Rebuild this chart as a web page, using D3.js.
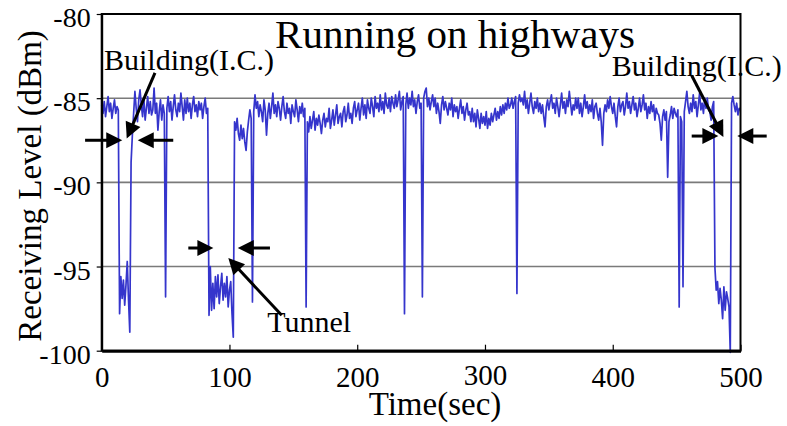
<!DOCTYPE html>
<html>
<head>
<meta charset="utf-8">
<script src="https://cdn.jsdelivr.net/npm/d3@7"></script>
<style>
  html, body { margin: 0; padding: 0; background: #fff; }
  svg { display: block; font-family: "Liberation Serif", "Times New Roman", serif; }
</style>
</head>
<body>
<div id="chart"></div>
<script>
// receiving level, one sample per second, t = 0..500 (dBm)
const LEVEL = [
  -85.4, -85.9, -85.2, -86.1, -85.5, -84.9, -85.8, -85.3, -86.2, -85.6, // 0
  -85.1, -85.9, -85.5, -85.7, -97.8, -95.6, -96.9, -95.8, -97.3, -96.1, // 10
  -94.7, -97.0, -98.9, -88.8, -87.2, -85.9, -84.6, -85.6, -86.4, -85.1, // 20
  -84.5, -85.4, -86.1, -85.0, -86.3, -85.6, -84.9, -85.9, -85.2, -86.0, // 30
  -85.7, -84.4, -85.9, -85.3, -86.9, -85.8, -85.1, -86.3, -85.4, -85.9, // 40
  -96.8, -85.6, -84.9, -85.8, -85.2, -86.3, -85.5, -84.8, -85.7, -86.1, // 50
  -85.3, -85.8, -84.7, -85.5, -86.3, -85.1, -85.9, -85.0, -85.8, -85.3, // 60
  -86.2, -85.4, -84.9, -85.8, -85.4, -86.1, -85.2, -85.7, -85.3, -86.2, // 70
  -85.5, -85.0, -85.9, -85.6, -97.9, -95.0, -97.6, -96.0, -97.5, -95.6, // 80
  -96.8, -95.5, -97.2, -96.2, -95.4, -97.0, -96.0, -96.8, -95.6, -97.4, // 90
  -96.4, -95.9, -97.8, -99.2, -86.4, -86.9, -86.2, -87.1, -87.5, -86.6, // 100
  -87.4, -86.8, -87.6, -88.1, -87.0, -86.3, -85.7, -86.2, -97.1, -85.8, // 110
  -84.8, -85.6, -85.2, -86.1, -85.4, -85.8, -86.4, -85.1, -85.7, -87.2, // 120
  -85.9, -85.3, -86.2, -85.5, -84.7, -85.9, -85.4, -86.1, -85.2, -85.6, // 130
  -86.3, -85.5, -84.9, -85.8, -86.2, -85.3, -85.9, -85.6, -86.5, -85.4, // 140
  -85.8, -86.1, -85.1, -85.7, -86.4, -85.5, -85.9, -85.3, -86.1, -85.6, // 150
  -97.4, -86.4, -87.0, -86.1, -86.8, -86.3, -85.8, -86.9, -86.2, -86.6, // 160
  -86.0, -86.5, -87.1, -86.3, -85.9, -86.7, -86.2, -86.4, -85.6, -86.8, // 170
  -86.3, -85.7, -86.6, -86.0, -85.4, -86.5, -86.1, -85.9, -86.7, -85.8, // 180
  -85.5, -86.4, -86.0, -85.3, -86.2, -85.9, -86.5, -85.6, -85.2, -86.1, // 190
  -85.7, -85.3, -86.3, -85.6, -85.0, -86.0, -85.4, -86.2, -85.1, -85.6, // 200
  -85.9, -85.0, -85.5, -86.1, -84.9, -85.6, -85.3, -85.8, -84.8, -85.7, // 210
  -85.2, -85.9, -84.7, -85.4, -85.6, -85.0, -85.8, -84.9, -85.3, -85.6, // 220
  -84.8, -85.5, -85.1, -84.6, -85.7, -85.2, -84.9, -97.8, -85.4, -84.7, // 230
  -85.6, -85.0, -85.4, -84.6, -85.5, -85.1, -85.9, -85.2, -84.8, -85.6, // 240
  -85.3, -96.8, -85.0, -84.6, -84.4, -85.5, -85.0, -85.7, -85.2, -84.8, // 250
  -85.5, -85.0, -85.9, -85.3, -85.8, -86.5, -85.4, -84.9, -85.7, -85.2, // 260
  -85.6, -86.0, -85.3, -85.7, -85.0, -86.1, -85.4, -85.8, -85.5, -86.2, // 270
  -85.6, -85.1, -85.9, -85.5, -86.3, -85.7, -85.3, -86.0, -85.8, -86.4, // 280
  -85.6, -86.4, -85.9, -86.7, -85.7, -86.2, -86.8, -85.9, -86.5, -86.1, // 290
  -86.6, -85.8, -86.8, -86.2, -86.6, -85.9, -86.4, -86.0, -85.6, -86.3, // 300
  -85.8, -86.2, -85.5, -86.0, -85.4, -85.9, -85.3, -85.7, -85.0, -85.6, // 310
  -85.4, -85.0, -85.6, -85.2, -84.9, -96.6, -85.3, -84.8, -85.2, -85.0, // 320
  -85.4, -84.6, -85.6, -85.1, -85.9, -85.3, -84.7, -85.5, -85.9, -85.2, // 330
  -85.6, -85.0, -85.8, -85.3, -85.9, -85.4, -86.1, -86.7, -85.5, -85.1, // 340
  -85.7, -85.2, -84.8, -85.6, -85.3, -85.9, -85.0, -85.5, -86.1, -85.4, // 350
  -84.7, -85.6, -85.2, -85.9, -85.1, -85.5, -84.6, -85.3, -86.0, -85.4, // 360
  -85.7, -85.0, -85.6, -85.0, -85.9, -85.3, -86.1, -85.5, -84.8, -85.6, // 370
  -85.2, -85.9, -85.4, -85.8, -85.1, -86.2, -85.5, -85.3, -85.9, -86.3, // 380
  -85.6, -86.4, -87.8, -85.9, -85.4, -85.8, -85.1, -85.6, -84.9, -85.5, // 390
  -85.9, -85.3, -86.1, -86.7, -85.5, -85.0, -85.8, -85.4, -85.2, -86.0, // 400
  -85.5, -84.7, -85.6, -85.2, -85.9, -85.4, -84.9, -85.7, -85.3, -86.1, // 410
  -85.6, -85.0, -85.8, -85.4, -84.8, -85.7, -85.3, -86.2, -85.5, -85.9, // 420
  -85.2, -85.8, -85.4, -86.3, -85.6, -85.9, -86.0, -86.5, -87.5, -86.1, // 430
  -85.7, -86.3, -85.8, -89.7, -86.4, -86.0, -85.5, -86.2, -85.6, -85.9, // 440
  -86.1, -85.7, -97.4, -86.1, -86.4, -96.2, -85.8, -85.2, -84.6, -85.5, // 450
  -85.9, -85.3, -85.8, -84.8, -85.6, -85.2, -86.1, -85.4, -84.7, -85.7, // 460
  -85.3, -85.9, -85.0, -85.6, -85.0, -85.7, -85.8, -86.3, -85.5, -85.2, // 470
  -95.1, -96.4, -95.9, -97.2, -96.3, -97.0, -98.1, -96.2, -97.6, -96.5, // 480
  -96.9, -97.4, -100.1, -85.3, -84.9, -85.4, -85.8, -85.3, -86.0, -85.6, // 490
  -85.7                                                                  // 500
];

const X_TICKS = [0, 100, 200, 300, 400, 500];
const Y_TICKS = [-100, -95, -90, -85, -80];
const GRID = [-95, -90, -85];

const TITLE = 'Running on highways';
const X_LABEL = 'Time(sec)';
const Y_LABEL = 'Receiving Level (dBm)';

// annotations, in data units: text anchor + arrows [t1, v1, t2, v2] (tail -> tip)
const NOTES = [
  { text: 'Building(I.C.)', t: 1.8, v: -83.35,
    arrows: [[-13, -87.5, 16.1, -87.5], [56, -87.5, 28.2, -87.5], [41.7, -83.5, 19.6, -87.4]] },
  { text: 'Tunnel', t: 129.5, v: -98.9,
    arrows: [[67.8, -93.9, 87.4, -93.9], [131.7, -93.9, 106.5, -93.9], [140.9, -97.9, 99.1, -94.5]] },
  { text: 'Building(I.C.)', t: 399.2, v: -83.7,
    arrows: [[461.8, -87.25, 482.7, -87.25], [520.5, -87.25, 497.5, -87.25], [461.8, -83.65, 486.6, -87.3]] }
];

(function () {
  'use strict';
  const W = 787, H = 426;
  const L = 101.7, R = 740.5, T = 14, B = 350.7;
  const FONT = '"Liberation Serif", "Times New Roman", serif';

  const svg = d3.select('#chart').append('svg').attr('width', W).attr('height', H);
  svg.append('rect').attr('width', W).attr('height', H).attr('fill', '#fff');

  const x = d3.scaleLinear().domain([0, 500]).range([L, R]);
  const y = d3.scaleLinear().domain([-100, -80]).range([B, T]);

  // grid
  svg.append('g').selectAll('line').data(GRID).join('line')
    .attr('x1', L).attr('x2', R).attr('y1', d => y(d)).attr('y2', d => y(d))
    .attr('stroke', '#7a7a7a').attr('stroke-width', 1.6);

  // trace
  const line = d3.line().x((d, i) => x(i)).y(d => y(d));
  svg.append('path').datum(LEVEL).attr('d', line)
    .attr('fill', 'none').attr('stroke', '#3535cc').attr('stroke-width', 1.7)
    .attr('stroke-linejoin', 'round');

  // frame
  svg.append('rect').attr('x', L).attr('y', T).attr('width', R - L).attr('height', B - T)
    .attr('fill', 'none').attr('stroke', '#000').attr('stroke-width', 2);

  // x axis (ticks inward)
  const gx = svg.append('g').attr('transform', `translate(0,${B})`)
    .call(d3.axisBottom(x).tickValues(X_TICKS).tickFormat(d => String(d))
      .tickSizeInner(-6).tickSizeOuter(0));
  gx.attr('font-family', FONT);
  gx.select('.domain').attr('stroke', '#000').attr('stroke-width', 3);
  gx.selectAll('.tick line').attr('stroke', '#000').attr('stroke-width', 1.2);
  gx.selectAll('.tick text').attr('y', d => d === 300 ? 34 : 36).attr('dy', 0)
    .style('font-size', '29px').attr('fill', '#000');

  // y axis (ticks outward)
  const gy = svg.append('g').attr('transform', `translate(${L},0)`)
    .call(d3.axisLeft(y).tickValues(Y_TICKS).tickFormat(d => String(d))
      .tickSizeInner(5).tickSizeOuter(0).tickPadding(6));
  gy.attr('font-family', FONT);
  gy.select('.domain').attr('stroke', '#000').attr('stroke-width', 2);
  gy.selectAll('.tick line').attr('stroke', '#000').attr('stroke-width', 1.2);
  gy.selectAll('.tick text').attr('dy', '0.45em')
    .style('font-size', '28px').attr('fill', '#000');

  // titles
  svg.append('text').attr('x', 455).attr('y', 48).attr('text-anchor', 'middle')
    .style('font-size', '41px').text(TITLE);
  svg.append('text').attr('x', 435).attr('y', 415).attr('text-anchor', 'middle')
    .style('font-size', '33px').text(X_LABEL);
  svg.append('text').attr('transform', 'translate(41,186) rotate(-90)').attr('text-anchor', 'middle')
    .style('font-size', '33px').text(Y_LABEL);

  // annotations
  function arrow(g, a) {
    const x1 = x(a[0]), y1 = y(a[1]), x2 = x(a[2]), y2 = y(a[3]);
    const len = Math.hypot(x2 - x1, y2 - y1), ux = (x2 - x1) / len, uy = (y2 - y1) / len;
    const hl = 16, hw = 8;
    const bx = x2 - ux * hl, by = y2 - uy * hl;
    g.append('line').attr('x1', x1).attr('y1', y1).attr('x2', bx + ux * 2).attr('y2', by + uy * 2)
      .attr('stroke', '#000').attr('stroke-width', 3);
    g.append('path')
      .attr('d', `M${x2},${y2}L${bx - uy * hw},${by + ux * hw}L${bx + uy * hw},${by - ux * hw}Z`)
      .attr('fill', '#000');
  }
  const ga = svg.append('g');
  NOTES.forEach(n => {
    ga.append('text').attr('x', x(n.t)).attr('y', y(n.v)).style('font-size', '30px').text(n.text);
    n.arrows.forEach(a => arrow(ga, a));
  });
})();
</script>
</body>
</html>
